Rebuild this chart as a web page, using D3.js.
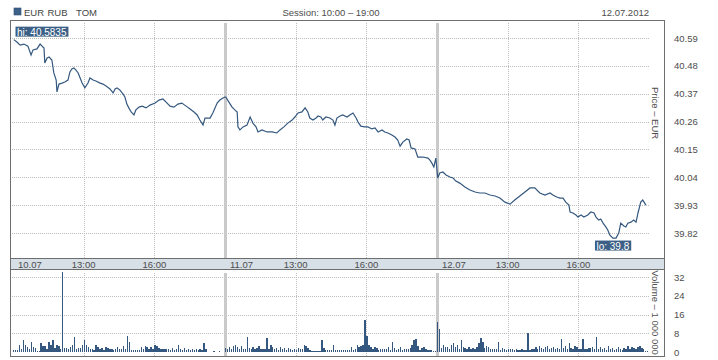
<!DOCTYPE html>
<html><head><meta charset="utf-8">
<script src="https://cdn.jsdelivr.net/npm/d3@7"></script>
<style>
html,body{margin:0;padding:0;background:#fff;}
svg{display:block;font-family:"Liberation Sans",Arial,sans-serif;}
</style></head><body>
<svg id="c" width="718" height="360"></svg>
<script>
// ---- data (minutes since 10:00 on 10.07, session 10:00-19:00, three sessions) ----
const instrument = ["EUR", "RUB", "TOM"];
const sessionText = "Session: 10:00 \u2013 19:00";
const dateText = "12.07.2012";
const dayLabels = ["10.07", "11.07", "12.07"];
const dayStartMinutes = [0, 540, 1080];
const timeTickMinutes = [180, 360, 720, 900, 1260, 1440];
const timeTickLabels = ["13:00", "16:00", "13:00", "16:00", "13:00", "16:00"];
const priceTicks = [40.59, 40.48, 40.37, 40.26, 40.15, 40.04, 39.93, 39.82];
const volumeTicks = [0, 8, 16, 24, 32];

const priceMinutes = [
  2,10,18,28,38,46,51,61,69,74,79,81,87,92,99,104,110,112,117,125,132,140,145,150,155,160,166,171,176,183,191,196,204,211,222,229,237,247,255,260,265,272,280,285,290,295,301,308,313,321,329,339,349,362,372,382,390,400,410,420,430,441,451,461,469,476,484,489,502,509,520,527,535,540,
  542,550,558,565,571,573,578,586,596,604,611,619,624,634,647,660,672,680,690,700,711,718,726,736,744,751,756,764,772,777,784,789,797,807,815,820,825,833,840,851,858,866,874,879,886,896,904,914,922,930,940,947,955,965,973,980,986,993,1003,1009,1014,1024,1031,1044,1057,1062,1067,1072,1077,
  1082,1087,1095,1103,1113,1121,1128,1138,1151,1164,1177,1189,1202,1215,1228,1240,1253,1266,1278,1291,1304,1317,1329,1342,1355,1368,1375,1385,1393,1401,1408,1416,1419,1426,1434,1439,1447,1454,1464,1472,1480,1485,1492,1497,1503,1510,1515,1520,1528,1536,1543,1548,1556,1561,1566,1574,1581,1587,1592,1597,1599,1604,1609,1612
];
const priceValues = [
  40.5835,40.574,40.562,40.566,40.558,40.523,40.543,40.547,40.566,40.558,40.550,40.491,40.511,40.515,40.503,40.452,40.424,40.377,40.408,40.412,40.416,40.424,40.456,40.468,40.472,40.464,40.452,40.432,40.412,40.393,40.412,40.432,40.424,40.420,40.412,40.408,40.400,40.389,40.373,40.389,40.393,40.385,40.369,40.357,40.329,40.314,40.298,40.286,40.306,40.317,40.321,40.314,40.325,40.333,40.345,40.349,40.337,40.321,40.317,40.329,40.333,40.321,40.310,40.298,40.286,40.266,40.246,40.274,40.274,40.294,40.333,40.345,40.353,40.357,
  40.357,40.337,40.317,40.306,40.298,40.239,40.227,40.239,40.246,40.278,40.254,40.239,40.219,40.227,40.219,40.219,40.215,40.227,40.239,40.254,40.266,40.278,40.294,40.298,40.314,40.298,40.274,40.266,40.274,40.282,40.278,40.266,40.278,40.274,40.266,40.246,40.274,40.282,40.286,40.278,40.286,40.294,40.274,40.258,40.242,40.239,40.239,40.231,40.235,40.219,40.227,40.219,40.215,40.207,40.199,40.187,40.163,40.179,40.191,40.187,40.156,40.152,40.120,40.120,40.116,40.108,40.096,40.081,40.116,
  40.037,40.057,40.061,40.049,40.041,40.037,40.025,40.017,40.002,39.990,39.982,39.978,39.978,39.970,39.966,39.958,39.942,39.934,39.950,39.966,39.982,39.998,39.998,39.978,39.970,39.978,39.970,39.962,39.958,39.958,39.942,39.930,39.903,39.899,39.891,39.883,39.891,39.883,39.891,39.903,39.899,39.883,39.871,39.875,39.859,39.844,39.832,39.812,39.8,39.8,39.820,39.859,39.848,39.844,39.859,39.863,39.871,39.863,39.899,39.930,39.942,39.950,39.938,39.930
];

// volume, millions, 5-minute bins (108 per session)
const volumeDay1 = [
  0.8,0.8,1.0,3.0,1.2,5.0,3.0,2.0,1.2,4.4,
  2.0,1.5,0.4,0.6,3.8,2.5,2.6,1.4,4.4,3.0,
  5.0,1.5,3.0,2.6,1.2,34,1.6,1.6,1.4,2.0,
  3.0,6.4,1.2,1.6,1.6,3.0,5.1,3.0,2.0,1.4,
  1.1,0.8,3.0,2.0,1.2,1.6,1.0,2.0,1.6,1.1,
  1.1,0.9,1.1,2.0,1.1,1.3,2.6,1.1,6.8,4.4,
  0.7,0.7,0.7,0.7,0.7,2.0,1.2,2.6,2.3,1.2,
  2.0,1.4,3.0,2.6,1.6,1.1,1.1,1.1,1.1,1.1,
  0.9,1.6,1.0,1.2,3.0,1.1,1.0,1.6,0.8,1.1,
  0.8,1.1,0.7,1.1,0.8,1.1,0.9,4.0,1.1,0.2,
  0,0,0.3,0,0,0.3,0,0
];
const volumeDay2 = [
  1.6,1.1,2.0,1.2,2.6,3.0,2.0,1.2,2.6,1.3,
  1.1,6.4,1.6,1.2,2.0,1.1,1.6,2.6,1.2,1.1,
  1.3,6.0,1.2,3.0,2.0,1.1,1.6,1.0,2.0,1.1,
  1.6,1.0,1.6,1.1,0.9,1.1,1.0,1.6,1.1,1.1,
  3.0,2.6,1.6,0.8,0.3,0.3,0.4,0.3,0.3,5.1,
  1.6,0.8,0.8,0.8,0.8,3.0,0.8,0.8,0.9,0.8,
  0.8,0.8,0.9,0.8,2.0,0.9,1.1,3.0,2.0,2.6,
  3.0,13.6,6.8,3.0,2.0,1.1,2.0,1.6,1.0,1.1,
  1.1,1.1,1.1,2.0,1.0,4.4,1.6,1.0,1.1,2.0,
  1.0,1.1,1.1,1.1,1.6,3.0,5.1,5.5,2.6,1.0,
  1.6,2.0,1.1,0.8,0.8,0.8,0.3,0.3
];
const volumeDay3 = [
  13.0,10.0,1.6,3.0,2.3,2.0,1.2,3.0,3.7,2.0,
  3.0,1.2,5.1,2.0,1.6,1.1,2.0,1.2,1.6,1.1,
  2.0,3.7,6.0,4.4,1.6,2.6,2.0,1.1,1.1,1.1,
  1.1,4.4,1.0,1.6,1.1,0.9,1.1,1.1,1.1,0.9,
  1.1,0.9,1.0,1.1,0.9,1.0,8.2,1.0,1.1,1.2,
  2.0,1.2,2.6,1.6,1.1,2.0,2.6,1.1,1.6,2.0,
  1.2,1.6,1.1,5.5,1.6,2.6,1.2,4.0,1.6,1.1,
  2.6,2.0,1.1,1.2,5.5,1.1,1.2,1.6,1.6,2.0,
  1.2,6.4,1.1,2.0,1.2,1.6,1.0,2.6,1.1,1.6,
  1.0,1.2,2.0,1.1,1.0,1.6,1.2,2.6,1.1,2.0,
  1.6,1.2,2.0,2.6,1.6,1.1,0.6,0.3
];

// ---- drawing ----
const svg = d3.select("#c");
const L = 10, R = 664, T = 20, bandTop = 258, bandBot = 269, B = 356, gridR = 649;
const blue = "#34587f", textCol = "#4d4d4d", gridCol = "#bdbdbd", sepCol = "#cacaca";

const x = d3.scaleLinear().domain([0, 1620]).range([13, 649]);
const y = d3.scaleLinear().domain([39.82, 40.59]).range([233, 38]);
const yv = d3.scaleLinear().domain([0, 32]).range([352, 277]);

// band
svg.append("rect").attr("x", L).attr("y", bandTop).attr("width", R - L).attr("height", bandBot - bandTop).attr("fill", "#d7dfe7");

// horizontal grids
const g = svg.append("g").attr("stroke", gridCol).attr("stroke-dasharray", "1,1").attr("shape-rendering", "crispEdges");
priceTicks.forEach(v => g.append("line").attr("x1", L).attr("x2", gridR).attr("y1", Math.round(y(v)) + 0.5).attr("y2", Math.round(y(v)) + 0.5));
volumeTicks.filter(v => v > 0).forEach(v => g.append("line").attr("x1", L).attr("x2", gridR).attr("y1", Math.round(yv(v)) + 0.5).attr("y2", Math.round(yv(v)) + 0.5));
// vertical grids
timeTickMinutes.forEach(m => {
  const xx = Math.round(x(m)) + 0.5;
  g.append("line").attr("x1", xx).attr("x2", xx).attr("y1", 23).attr("y2", bandTop);
  g.append("line").attr("x1", xx).attr("x2", xx).attr("y1", 273).attr("y2", B);
});
// day separators
dayStartMinutes.slice(1).forEach(m => {
  const xx = x(m);
  svg.append("rect").attr("x", Math.round(xx) - 1).attr("y", 23).attr("width", 3).attr("height", bandTop - 23).attr("fill", sepCol);
  svg.append("rect").attr("x", Math.round(xx) - 1).attr("y", 273).attr("width", 3).attr("height", B - 273).attr("fill", sepCol);
});

// volume bars
const vols = [];
[volumeDay1, volumeDay2, volumeDay3].forEach((arr, d) => arr.forEach((v, i) => vols.push({ m: dayStartMinutes[d] + i * 5, v })));
svg.append("g").attr("fill", blue).attr("shape-rendering", "crispEdges")
  .selectAll("rect").data(vols.filter(d => d.v > 0)).join("rect")
  .attr("x", d => x(d.m))
  .attr("width", d => (x(d.m + 5) - x(d.m)) * 0.7)
  .attr("y", d => yv(d.v))
  .attr("height", d => yv(0) - yv(d.v));

// price line
const pts = priceMinutes.map((m, i) => [m, priceValues[i]]);
svg.append("path").datum(pts)
  .attr("fill", "none").attr("stroke", blue).attr("stroke-width", 1.2).attr("stroke-linejoin", "miter")
  .attr("d", d3.line().x(d => x(d[0])).y(d => y(d[1])));

// borders
const bd = svg.append("g").attr("stroke", "#6e6e6e").attr("fill", "none").attr("shape-rendering", "crispEdges");
bd.append("rect").attr("x", L + 0.5).attr("y", T + 0.5).attr("width", R - L).attr("height", B - T);
bd.append("line").attr("x1", L).attr("x2", R).attr("y1", bandTop + 0.5).attr("y2", bandTop + 0.5);
bd.append("line").attr("x1", L).attr("x2", R).attr("y1", bandBot + 0.5).attr("y2", bandBot + 0.5);

const fs = "9.5px";
// band labels
dayLabels.forEach((t, i) => svg.append("text").attr("x", x(dayStartMinutes[i]) + 5).attr("y", 267.5)
  .attr("font-size", fs).attr("fill", textCol).text(t));
timeTickMinutes.forEach((m, i) => svg.append("text").attr("x", x(m)).attr("y", 267.5).attr("text-anchor", "middle")
  .attr("font-size", fs).attr("fill", textCol).text(timeTickLabels[i]));

// axes
function styleAxis(sel) {
  sel.select(".domain").remove();
  sel.selectAll("text").attr("font-size", fs).attr("fill", textCol).attr("font-family", "Liberation Sans, Arial, sans-serif");
}
svg.append("g").attr("transform", "translate(674,0)")
  .call(d3.axisRight(y).tickValues(priceTicks).tickSize(0).tickPadding(0).tickFormat(d3.format(".2f"))).call(styleAxis);
svg.append("g").attr("transform", "translate(674,0)")
  .call(d3.axisRight(yv).tickValues(volumeTicks).tickSize(0).tickPadding(0).tickFormat(d3.format("d"))).call(styleAxis);

// axis titles
svg.append("text").attr("transform", "translate(652,113) rotate(90)").attr("text-anchor", "middle")
  .attr("font-size", fs).attr("fill", textCol).text("Price \u2013 EUR");
svg.append("text").attr("transform", "translate(652,312.5) rotate(90)").attr("text-anchor", "middle")
  .attr("font-size", fs).attr("fill", textCol).text("Volume \u2013 1 000 000");

// header
svg.append("rect").attr("x", 14).attr("y", 8).attr("width", 7).attr("height", 7).attr("fill", "#3d6189").attr("stroke", "#2d4d73").attr("stroke-width", 0.6);
const hdrX = [24, 47.5, 76];
instrument.forEach((t, i) => svg.append("text").attr("x", hdrX[i]).attr("y", 15.5).attr("font-size", fs).attr("fill", "#444").text(t));
svg.append("text").attr("x", 331).attr("y", 15.5).attr("text-anchor", "middle").attr("font-size", fs).attr("fill", textCol).text(sessionText);
svg.append("text").attr("x", 649).attr("y", 15.5).attr("text-anchor", "end").attr("font-size", fs).attr("fill", textCol).text(dateText);

// hi / lo labels
function tag(tx, ty, anchor, label) {
  const gg = svg.append("g");
  const r = gg.append("rect").attr("fill", "#3b5f85");
  const t = gg.append("text").attr("x", tx).attr("y", ty).attr("text-anchor", anchor)
    .attr("font-size", "10px").attr("fill", "#fff").text(label);
  const bb = t.node().getBBox();
  r.attr("x", bb.x - 1.5).attr("y", bb.y).attr("width", bb.width + 3).attr("height", bb.height - 1);
}
const hiI = d3.maxIndex(priceValues), loI = d3.minIndex(priceValues);
tag(17, y(priceValues[hiI]) - 4, "start", "hi: " + priceValues[hiI]);
tag(x(priceMinutes[loI]), y(priceValues[loI]) + 11.5, "middle", "lo: " + priceValues[loI]);
</script>
</body></html>
